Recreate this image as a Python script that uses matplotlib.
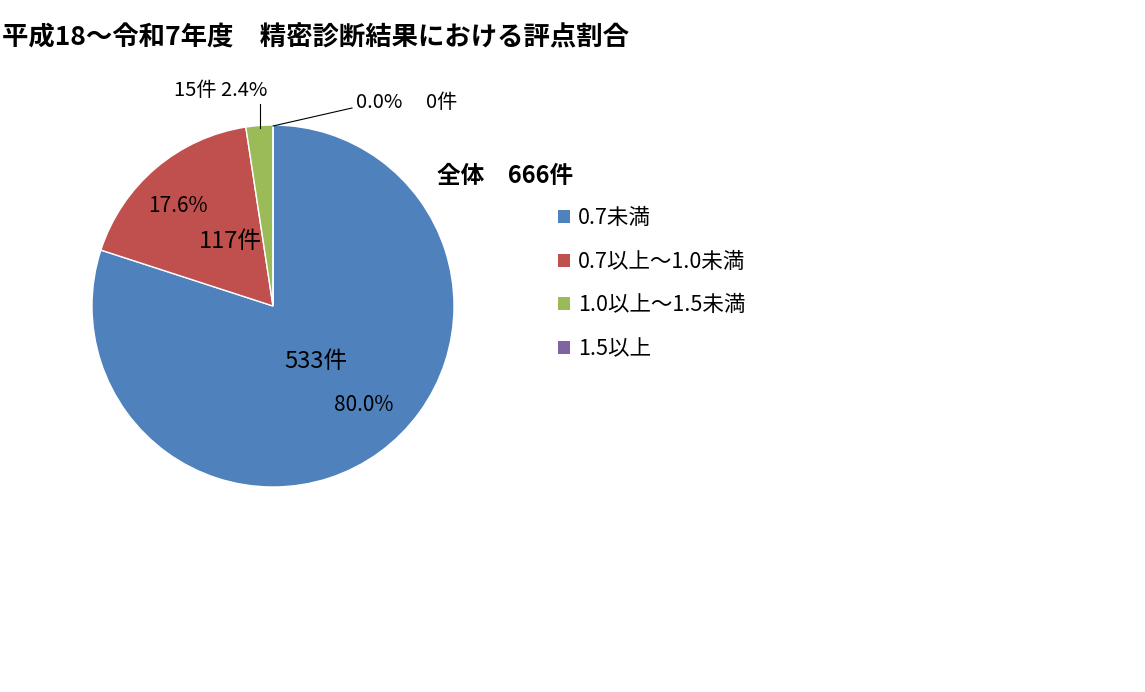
import matplotlib
matplotlib.use('Agg')
import matplotlib.pyplot as plt
from matplotlib.patches import Patch

plt.rcParams['font.family'] = ['Noto Sans CJK JP', 'DejaVu Sans']

# data (as printed on the chart)
categories = ['0.7未満', '0.7以上～1.0未満', '1.0以上～1.5未満', '1.5以上']
counts = [533, 117, 15, 0]
percents = [80.0, 17.6, 2.4, 0.0]
total = 666
colors = ['#4F81BD', '#C0504D', '#9BBB59', '#8064A2']
title = '平成18～令和7年度　精密診断結果における評点割合'

W, H = 1145, 692
fig = plt.figure(figsize=(W / 100, H / 100), dpi=100)

# pie centre / radius in pixels
cx, cy, r = 273, 306, 181
ax = fig.add_axes([(cx - r) / W, (H - cy - r) / H, 2 * r / W, 2 * r / H])
ax.pie(percents, colors=colors, startangle=90, counterclock=False, radius=1,
       wedgeprops=dict(edgecolor='white', linewidth=1))
ax.set_xlim(-1, 1)
ax.set_ylim(-1, 1)
ax.set_aspect('equal')
ax.axis('off')


def d(px, py):
    # pixel -> data coords of the pie axes
    return (px - cx) / r, (cy - py) / r


ax.text(*d(316, 361), f'{counts[0]}件', fontsize=17, ha='center', va='center')
ax.text(*d(364, 405), f'{percents[0]:.1f}%', fontsize=15, ha='center', va='center')
ax.text(*d(230, 241), f'{counts[1]}件', fontsize=17, ha='center', va='center')
ax.text(*d(178, 206), f'{percents[1]:.1f}%', fontsize=15, ha='center', va='center')
ax.text(*d(221, 90), f'{counts[2]}件 {percents[2]:.1f}%', fontsize=14.5,
        ha='center', va='center', clip_on=False)
ax.text(*d(379, 103), f'{percents[3]:.1f}%', fontsize=14.5,
        ha='center', va='center', clip_on=False)
ax.text(*d(442, 103), f'{counts[3]}件', fontsize=14.5,
        ha='center', va='center', clip_on=False)

# leader lines
x0, y0 = d(260, 128)
x1, y1 = d(260, 104)
ax.plot([x0, x1], [y0, y1], color='black', lw=0.8, clip_on=False)
x0, y0 = d(273, 126)
x1, y1 = d(352, 108)
ax.plot([x0, x1], [y0, y1], color='black', lw=0.8, clip_on=False)

fig.text(2 / W, 1 - 38 / H, title, fontsize=19, fontweight='bold',
         ha='left', va='center')
fig.text(437 / W, 1 - 176 / H, f'全体　{total}件', fontsize=17, fontweight='bold',
         ha='left', va='center')

handles = [Patch(facecolor=c, edgecolor='none') for c in colors]
leg = fig.legend(handles, categories, loc='upper left',
                 bbox_to_anchor=(539 / W, 1 - 188 / H), frameon=False,
                 fontsize=15.5, handlelength=0.55, handleheight=0.55,
                 handletextpad=0.35, labelspacing=1.0)

fig.savefig('out.png', dpi=100)
